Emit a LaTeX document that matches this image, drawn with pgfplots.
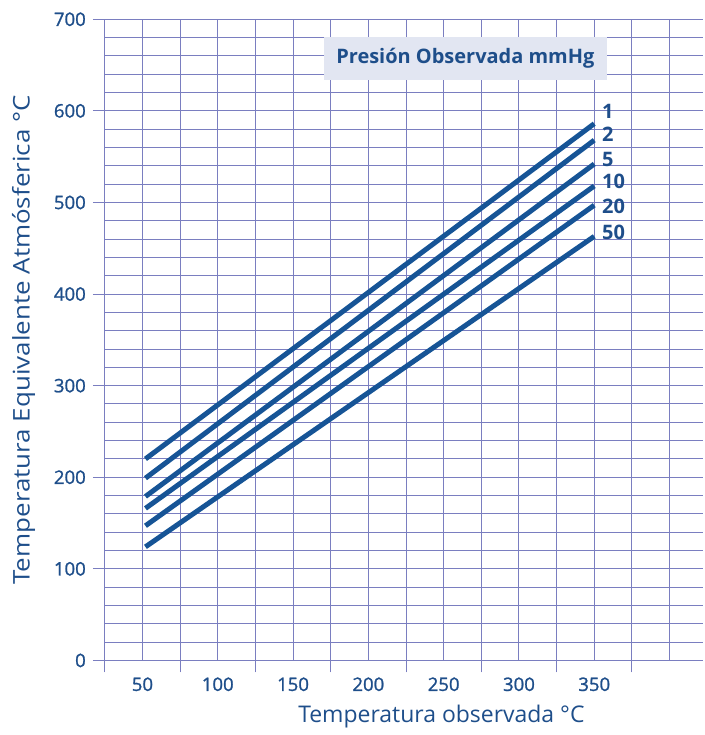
\documentclass[border=0pt]{standalone}
\usepackage{pgfplots}
\pgfplotsset{compat=1.18}
\usepackage{graphicx}
\usepackage{fontspec}
\setmainfont{Open Sans}
\newfontfamily\semib{Open Sans}[FakeBold=1.2]
\definecolor{txtblue}{RGB}{30,78,138}
\definecolor{lineblue}{RGB}{22,84,150}
\definecolor{gridblue}{RGB}{122,126,192}
\definecolor{boxfill}{RGB}{226,230,242}
\begin{document}
\begin{tikzpicture}
\begin{axis}[
    scale only axis,
    width=299.5pt, height=321.2pt,
    xmin=25, xmax=422, ymin=0, ymax=700,
    axis x line*=bottom, axis y line*=left,
    axis line style={gridblue, line width=0.5pt},
    xtick={25,75,...,375}, xticklabels={},
    extra x ticks={50,100,...,350},
    extra x tick style={xtick style={draw=none}, grid=none},
    ytick={0,100,...,700},
    minor xtick={25,50,...,400},
    minor ytick={0,20,...,700},
    grid=minor,
    minor grid style={gridblue, line width=0.5pt},
    minor tick length=0pt,
    tick align=outside,
    major tick length=6pt,
    tick style={gridblue, line width=0.5pt},
    /pgf/number format/assume math mode=true,
    tick label style={text=txtblue, font=\semib\fontsize{9.3}{11}\selectfont},
    xticklabel style={yshift=1pt},
    xlabel={Temperatura observada °C},
    ylabel={\scalebox{1.13}[1]{Temperatura Equivalente Atmósferica °C}},
    label style={text=txtblue, font=\fontsize{11.5}{13}\selectfont},
    xlabel style={at={(axis description cs:0.563,-0.088)}, anchor=center},
    ylabel style={at={(axis description cs:-0.136,0.5)}, anchor=center},
]
\addplot[lineblue, line width=2.5pt] coordinates {(52,220) (350,586)};
\addplot[lineblue, line width=2.5pt] coordinates {(52,199) (350,568)};
\addplot[lineblue, line width=2.5pt] coordinates {(52,179) (350,542)};
\addplot[lineblue, line width=2.5pt] coordinates {(52,166) (350,518)};
\addplot[lineblue, line width=2.5pt] coordinates {(52,147) (350,497)};
\addplot[lineblue, line width=2.5pt] coordinates {(52,124) (350,463)};
\node[fill=boxfill, text=txtblue, font=\bfseries, minimum width=141.5pt, minimum height=21.5pt] at (axis cs:264.4,657.6) {Presión Observada mmHg};
\begin{scope}[every node/.style={anchor=west, text=txtblue, font=\bfseries, inner sep=0pt}]
\node at (axis cs:355,599) {1};
\node at (axis cs:355,574) {2};
\node at (axis cs:355,546.5) {5};
\node at (axis cs:355,523) {10};
\node at (axis cs:355,496) {20};
\node at (axis cs:355,467) {50};
\end{scope}
\end{axis}
\path[use as bounding box] (-52.5pt,-36.65pt) rectangle (300.5pt,330.85pt);
\end{tikzpicture}
\end{document}
